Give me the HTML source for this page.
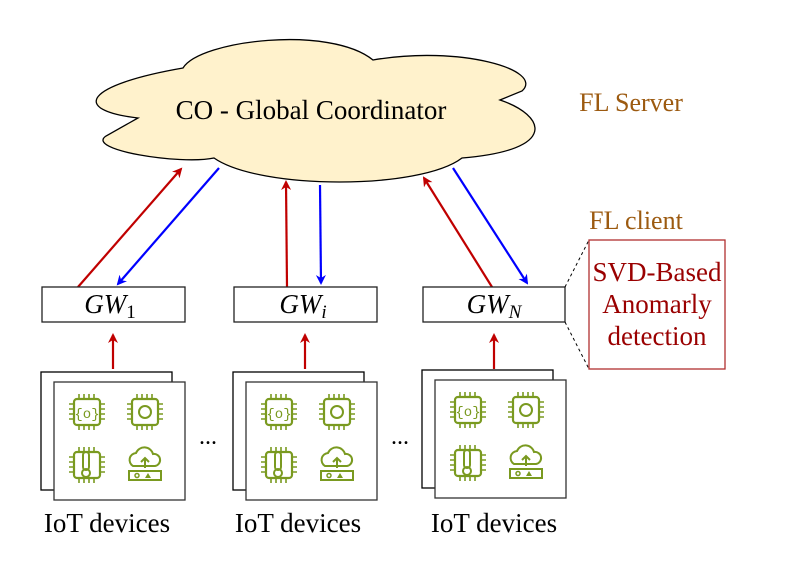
<!DOCTYPE html>
<html><head><style>body{margin:0;background:#fff}svg{display:block}</style></head><body>
<svg width="797" height="566" viewBox="0 0 797 566" xmlns="http://www.w3.org/2000/svg" font-family="Liberation Serif, serif">
<defs>
<marker id="ar" markerWidth="10" markerHeight="10" refX="8" refY="5" orient="auto" markerUnits="userSpaceOnUse"><path d="M0,0 L10,5 L0,10 L3,5 Z" fill="#c00000"/></marker>
<marker id="ab" markerWidth="10" markerHeight="10" refX="8" refY="5" orient="auto" markerUnits="userSpaceOnUse"><path d="M0,0 L10,5 L0,10 L3,5 Z" fill="#0000ff"/></marker>
<g id="chip">
<rect x="6" y="6" width="26" height="26" rx="3" fill="none" stroke="#7a9a20" stroke-width="2.2"/>
<path d="M11,1v5M16,1v5M21,1v5M26,1v5M11,32v5M16,32v5M21,32v5M26,32v5M1,11h5M1,16h5M1,21h5M1,26h5M32,11h5M32,16h5M32,21h5M32,26h5" stroke="#7a9a20" stroke-width="1.6"/>
</g>
<g id="dev">
<rect x="0" y="-10" width="131" height="118" fill="#fff" stroke="#000" stroke-width="1.3"/>
<rect x="13" y="0" width="131" height="118" fill="#fff" stroke="#333" stroke-width="1.3"/>
<use href="#chip" x="27" y="11"/>
<text x="46" y="36" font-size="14" fill="#7a9a20" text-anchor="middle" font-family="Liberation Mono,monospace">{o}</text>
<use href="#chip" x="85" y="11"/>
<circle cx="104" cy="30" r="6" fill="none" stroke="#7a9a20" stroke-width="2"/>
<use href="#chip" x="27" y="64"/>
<rect x="42" y="70" width="6" height="18" rx="3" fill="none" stroke="#7a9a20" stroke-width="2"/><circle cx="45" cy="91" r="4" fill="none" stroke="#7a9a20" stroke-width="2"/>
<path d="M92,84 a7,7 0 0 1 3,-13 a9,9 0 0 1 17,1 a6,6 0 0 1 2,12 Z" fill="none" stroke="#7a9a20" stroke-width="2"/>
<path d="M104,86 v-10 M100,80 l4,-4 4,4" fill="none" stroke="#7a9a20" stroke-width="2"/>
<rect x="88" y="89" width="32" height="9" fill="none" stroke="#7a9a20" stroke-width="2"/>
<circle cx="96" cy="93.5" r="2" fill="none" stroke="#7a9a20" stroke-width="1.5"/><path d="M104,96 l3,-5 3,5z" fill="#7a9a20"/>
</g>
</defs>
<path d="M183,68 C200,40 330,25 373,60 C460,45 545,70 522,91 L500,100 C545,115 560,150 462,158 C420,190 260,190 214,158 C180,165 85,150 106,136 L138,118 C70,110 85,85 183,68 Z" fill="#fff2cc" stroke="#000" stroke-width="1.3"/>
<text x="311" y="119" font-size="27" text-anchor="middle">CO - Global Coordinator</text>
<text x="631" y="111" font-size="26" fill="#9c5a10" text-anchor="middle">FL Server</text>
<text x="636" y="229" font-size="26" fill="#9c5a10" text-anchor="middle">FL client</text>
<g stroke-width="2.2" fill="none">
<line x1="78" y1="287" x2="181" y2="169" stroke="#c00000" marker-end="url(#ar)"/>
<line x1="219" y1="168" x2="118" y2="284" stroke="#0000ff" marker-end="url(#ab)"/>
<line x1="287" y1="287" x2="286" y2="182" stroke="#c00000" marker-end="url(#ar)"/>
<line x1="320" y1="185" x2="321" y2="283" stroke="#0000ff" marker-end="url(#ab)"/>
<line x1="492" y1="287" x2="424" y2="178" stroke="#c00000" marker-end="url(#ar)"/>
<line x1="453" y1="168" x2="527" y2="283" stroke="#0000ff" marker-end="url(#ab)"/>
<line x1="113" y1="369" x2="113" y2="335" stroke="#c00000" marker-end="url(#ar)"/>
<line x1="305" y1="369" x2="305" y2="335" stroke="#c00000" marker-end="url(#ar)"/>
<line x1="494" y1="369" x2="494" y2="335" stroke="#c00000" marker-end="url(#ar)"/>
</g>
<g fill="#fff" stroke="#222" stroke-width="1.3">
<rect x="42" y="287" width="143" height="35"/><rect x="234" y="287" width="143" height="35"/><rect x="423" y="287" width="142" height="35"/>
</g>
<g font-size="27" font-style="italic" text-anchor="middle">
<text x="110" y="313">GW<tspan font-style="normal" font-size="19" dy="5">1</tspan></text>
<text x="303" y="313">GW<tspan font-size="19" dy="5">i</tspan></text>
<text x="494" y="313">GW<tspan font-size="19" dy="5">N</tspan></text>
</g>
<path d="M565,287 L589,240 M565,322 L589,369" stroke="#000" stroke-dasharray="3,3" stroke-width="1"/>
<rect x="589" y="240" width="136" height="129" fill="#fff" stroke="#b03030" stroke-width="1.3"/>
<g font-size="27" fill="#9a0000" text-anchor="middle">
<text x="657" y="281">SVD-Based</text><text x="657" y="313">Anomarly</text><text x="657" y="345">detection</text>
</g>
<use href="#dev" x="41" y="382"/>
<use href="#dev" x="233" y="382"/>
<use href="#dev" x="422" y="380"/>
<text x="208" y="444" font-size="24" text-anchor="middle">...</text>
<text x="400" y="444" font-size="24" text-anchor="middle">...</text>
<g font-size="27" text-anchor="middle">
<text x="107" y="532">IoT devices</text><text x="298" y="532">IoT devices</text><text x="494" y="532">IoT devices</text>
</g>
</svg>
</body></html>
